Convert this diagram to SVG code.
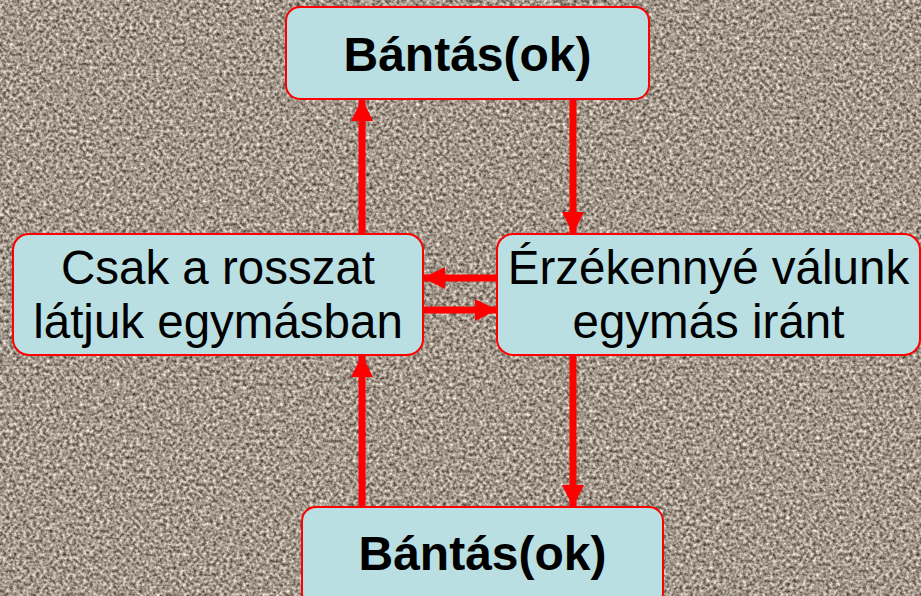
<svg xmlns="http://www.w3.org/2000/svg" width="921" height="596" viewBox="0 0 921 596">
<defs>
<filter id="granite" x="0" y="0" width="100%" height="100%" color-interpolation-filters="sRGB">
<feTurbulence type="fractalNoise" baseFrequency="0.3" numOctaves="2" seed="7" result="n"/>
<feColorMatrix in="n" type="matrix" values="1.05 0 0 0 0.11  1.05 0 0 0 0.065  1.05 0 0 0 0.02  0 0 0 0 1"/>
</filter>
<marker id="ah" markerUnits="userSpaceOnUse" markerWidth="24" markerHeight="24" refX="22" refY="11" orient="auto">
<path d="M0,0 L22,11 L0,22 Z" fill="#ff0000"/>
</marker>
<style>
.box{fill:#b9dfe3;stroke:#ff0000;stroke-width:2}
.t{font-family:"Liberation Sans",Arial,sans-serif;fill:#000;text-anchor:middle}
.b{font-weight:bold;font-size:48px}
.r{font-size:47.5px}
.c{stroke:#ff0000;stroke-width:7;fill:none;marker-end:url(#ah)}
</style>
</defs>
<rect width="921" height="596" fill="#9e9184"/>
<rect width="921" height="596" filter="url(#granite)"/>
<g id="connectors">
<line class="c" x1="362" y1="234" x2="362" y2="99"/>
<line class="c" x1="573" y1="99" x2="573" y2="234"/>
<line class="c" x1="573" y1="355" x2="573" y2="507"/>
<line class="c" x1="362" y1="507" x2="362" y2="355"/>
<line class="c" x1="497" y1="278" x2="423" y2="278"/>
<line class="c" x1="423" y1="310" x2="497" y2="310"/>
</g>
<g id="node-top">
<rect class="box" x="286" y="7" width="363" height="92" rx="14"/>
<text class="t b" x="467.5" y="71">Bántás(ok)</text>
</g>
<g id="node-left">
<rect class="box" x="13" y="234" width="410" height="121" rx="16"/>
<text class="t r" x="218" y="284">Csak a rosszat</text>
<text class="t r" x="218" y="338">látjuk egymásban</text>
</g>
<g id="node-right">
<rect class="box" x="497" y="234" width="423" height="121" rx="16"/>
<text class="t r" x="708.5" y="284">Érzékennyé válunk</text>
<text class="t r" x="708.5" y="338">egymás iránt</text>
</g>
<g id="node-bottom">
<rect class="box" x="302" y="507" width="361" height="100" rx="14"/>
<text class="t b" x="482.5" y="570">Bántás(ok)</text>
</g>
</svg>
